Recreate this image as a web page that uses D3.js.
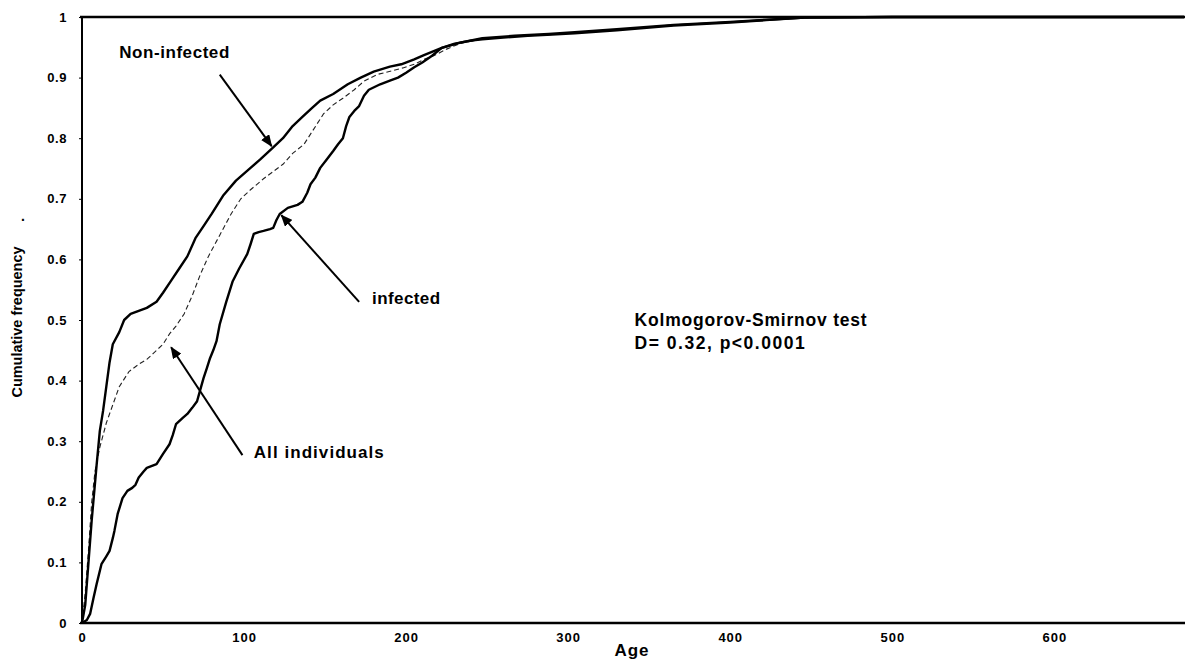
<!DOCTYPE html>
<html>
<head>
<meta charset="utf-8">
<script src="https://cdn.jsdelivr.net/npm/d3@7"></script>
<style>
  html, body { margin: 0; padding: 0; background: #fff; }
  svg { display: block; font-family: "Liberation Sans", Arial, sans-serif; }
</style>
</head>
<body>
<svg id="chart" width="1185" height="661"></svg>
<script>
// Cumulative age distributions: [age, cumulative frequency]
const nonInfected = [
  [0,0],[2,0.03],[4,0.1],[6,0.17],[9,0.26],[11,0.317],[13,0.35],[15,0.39],[17,0.43],[19,0.46],
  [23,0.48],[26,0.5],[30,0.51],[35,0.515],[40,0.52],[46,0.53],[50,0.545],[55,0.565],[60,0.585],
  [65,0.605],[70,0.635],[75,0.655],[80,0.675],[87,0.705],[95,0.73],[104,0.751],[110,0.765],
  [118,0.785],[124,0.8],[130,0.82],[136,0.835],[142,0.85],[147,0.862],[155,0.873],[164,0.889],
  [172,0.9],[180,0.91],[190,0.918],[197,0.922],[205,0.93],[211,0.937],[222,0.949],[234,0.958],
  [247,0.965],[267,0.969],[288,0.972],[304,0.975],[330,0.98],[365,0.987],[400,0.992],[446,0.999],
  [500,1],[680,1]
];
const allIndividuals = [
  [0,0],[2,0.05],[4,0.12],[6,0.2],[8,0.25],[11,0.29],[15,0.33],[19,0.36],[23,0.39],[29,0.415],
  [35,0.427],[40,0.435],[44,0.445],[50,0.46],[54,0.477],[58,0.49],[63,0.51],[68,0.54],[73,0.575],
  [78,0.605],[85,0.64],[92,0.675],[98,0.7],[104,0.715],[112,0.733],[118,0.745],[124,0.757],
  [130,0.775],[137,0.79],[143,0.815],[149,0.84],[155,0.855],[161,0.866],[168,0.88],[174,0.894],
  [182,0.905],[191,0.911],[198,0.916],[205,0.922],[211,0.93],[217,0.936],[225,0.947],[234,0.957],
  [247,0.964],[267,0.968],[288,0.971],[304,0.974],[330,0.979],[365,0.986],[400,0.992],[446,0.999],
  [500,1],[680,1]
];
const infected = [
  [0,0],[3,0.005],[5,0.015],[7,0.04],[9,0.064],[12,0.097],[15,0.11],[17,0.119],[19,0.14],[20,0.152],
  [22,0.18],[25,0.206],[28,0.218],[31,0.223],[33,0.228],[35,0.24],[38,0.25],[40,0.256],[46,0.262],
  [50,0.279],[54,0.295],[56,0.31],[58,0.328],[62,0.338],[65,0.345],[68,0.355],[71,0.366],[73,0.385],
  [75,0.404],[77,0.42],[79,0.437],[81,0.45],[83,0.465],[85,0.493],[89,0.53],[93,0.564],[97,0.585],
  [102,0.609],[104,0.625],[106,0.642],[109,0.645],[112,0.647],[116,0.65],[118,0.652],[120,0.665],
  [122,0.675],[127,0.685],[133,0.69],[136,0.695],[139,0.71],[141,0.724],[144,0.735],[147,0.751],
  [151,0.765],[155,0.779],[158,0.79],[161,0.8],[163,0.82],[165,0.835],[168,0.845],[171,0.853],
  [174,0.87],[177,0.88],[184,0.889],[190,0.895],[195,0.9],[200,0.908],[205,0.917],[210,0.925],
  [216,0.936],[222,0.949],[230,0.956],[240,0.961],[247,0.963],[260,0.966],[275,0.969],[290,0.971],
  [304,0.973],[330,0.978],[365,0.986],[400,0.991],[446,0.999],[500,1],[680,1]
];

const xTicks = [0, 100, 200, 300, 400, 500, 600];
const yTicks = [0, 0.1, 0.2, 0.3, 0.4, 0.5, 0.6, 0.7, 0.8, 0.9, 1];
const yTickLabels = ["0", "0.1", "0.2", "0.3", "0.4", "0.5", "0.6", "0.7", "0.8", "0.9", "1"];

// Annotations, anchored in data units: label position, arrow tail, arrow tip
const annotations = [
  { text: "Non-infected", at: [23, 0.94], len: 110, tail: [85, 0.905], tip: [117, 0.787] },
  { text: "infected", at: [179, 0.533], len: 68, tail: [171, 0.53], tip: [123, 0.673] },
  { text: "All individuals", at: [106, 0.28], len: 130, tail: [99, 0.277], tip: [55, 0.455] }
];
const testLines = ["Kolmogorov-Smirnov test", "D= 0.32, p<0.0001"];
const testLens = [232, 170];

const svg = d3.select("#chart");
const x = d3.scaleLinear().domain([0, 680]).range([82, 1184]);
const y = d3.scaleLinear().domain([0, 1]).range([623, 17]);

// arrowhead
svg.append("defs").append("marker")
  .attr("id", "head").attr("viewBox", "0 0 12 10")
  .attr("refX", 11).attr("refY", 5)
  .attr("markerWidth", 12).attr("markerHeight", 10)
  .attr("markerUnits", "userSpaceOnUse").attr("orient", "auto")
  .append("path").attr("d", "M0,0 L12,5 L0,10 Z").attr("fill", "#000");

// axes
const yAxis = d3.axisLeft(y).tickValues(yTicks)
  .tickFormat((d, i) => yTickLabels[i]).tickSize(3).tickPadding(12);
const gy = svg.append("g").attr("transform", `translate(${x(0)},0)`).call(yAxis);
gy.select(".domain").remove();
gy.selectAll("text").attr("font-size", 13).attr("font-weight", "bold").attr("fill", "#000")
  .attr("font-family", "'Liberation Sans', Arial, sans-serif").attr("letter-spacing", 0.6);
gy.selectAll("line").attr("stroke", "#000").attr("stroke-width", 1);

const xAxis = d3.axisBottom(x).tickValues(xTicks).tickSize(0).tickPadding(10);
const gx = svg.append("g").attr("transform", `translate(0,${y(0)})`).call(xAxis);
gx.select(".domain").remove();
gx.selectAll("text").attr("font-size", 13).attr("font-weight", "bold").attr("fill", "#000")
  .attr("font-family", "'Liberation Sans', Arial, sans-serif").attr("letter-spacing", 1);

// frame: left, top, bottom
const frame = svg.append("g").attr("stroke", "#000").attr("fill", "none");
frame.append("line").attr("x1", x(0)).attr("x2", x(0)).attr("y1", y(1)).attr("y2", y(0)).attr("stroke-width", 2);
frame.append("line").attr("x1", x(0) - 2).attr("x2", 1185).attr("y1", y(1)).attr("y2", y(1)).attr("stroke-width", 2.5);
frame.append("line").attr("x1", x(0) - 2).attr("x2", 1185).attr("y1", y(0)).attr("y2", y(0)).attr("stroke-width", 2.5);

// axis titles
svg.append("text").attr("x", 632).attr("y", y(0) + 33)
  .attr("text-anchor", "middle").attr("font-size", 17).attr("font-weight", "bold")
  .attr("letter-spacing", 1).text("Age");
svg.append("text").attr("transform", "translate(22,322) rotate(-90)")
  .attr("text-anchor", "middle").attr("font-size", 15).attr("font-weight", "bold")
  .attr("textLength", 151).attr("lengthAdjust", "spacingAndGlyphs").text("Cumulative frequency");
svg.append("text").attr("x", 21).attr("y", 221).attr("font-size", 14).attr("font-weight", "bold").text(".");

// curves
const line = d3.line().x(d => x(d[0])).y(d => y(d[1]));
svg.append("path").datum(allIndividuals).attr("d", line)
  .attr("fill", "none").attr("stroke", "#222").attr("stroke-width", 1.1)
  .attr("stroke-dasharray", "5,3");
svg.append("path").datum(infected).attr("d", line)
  .attr("fill", "none").attr("stroke", "#000").attr("stroke-width", 2.4).attr("stroke-linejoin", "round");
svg.append("path").datum(nonInfected).attr("d", line)
  .attr("fill", "none").attr("stroke", "#000").attr("stroke-width", 2.4).attr("stroke-linejoin", "round");

// labels and arrows
const ann = svg.append("g");
annotations.forEach(a => {
  ann.append("line")
    .attr("x1", x(a.tail[0])).attr("y1", y(a.tail[1]))
    .attr("x2", x(a.tip[0])).attr("y2", y(a.tip[1]))
    .attr("stroke", "#000").attr("stroke-width", 2).attr("marker-end", "url(#head)");
  ann.append("text").attr("x", x(a.at[0])).attr("y", y(a.at[1]))
    .attr("dominant-baseline", "middle").attr("font-size", 17).attr("font-weight", "bold")
    .attr("textLength", a.len).attr("lengthAdjust", "spacing").text(a.text);
});

testLines.forEach((t, i) => {
  svg.append("text").attr("x", x(341)).attr("y", y(0.497) + i * 23)
    .attr("dominant-baseline", "middle").attr("font-size", 17.5).attr("font-weight", "bold")
    .attr("textLength", testLens[i]).attr("lengthAdjust", "spacing").text(t);
});
</script>
</body>
</html>
